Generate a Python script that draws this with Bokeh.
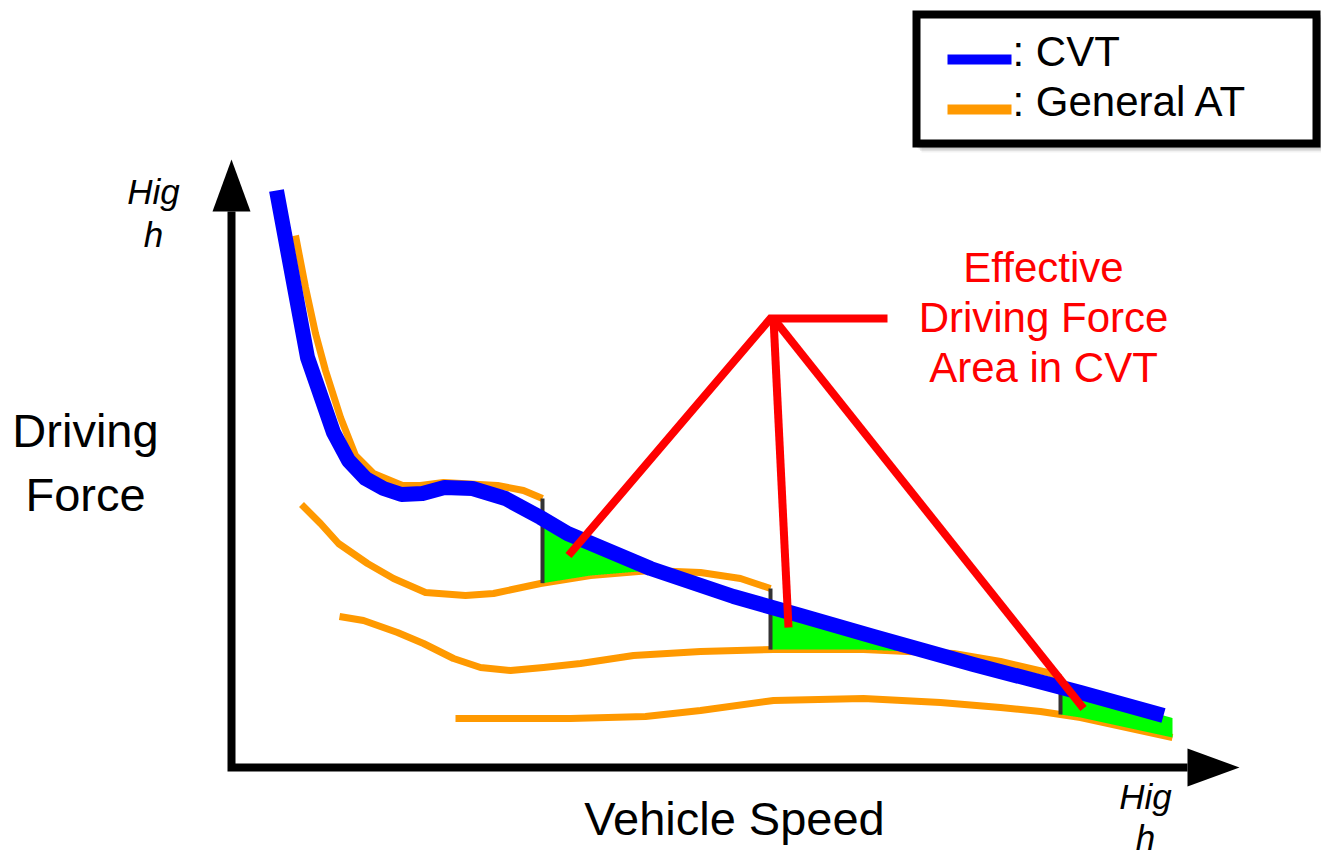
import numpy as np
from bokeh.plotting import figure
from bokeh.models import Range1d
from bokeh.embed import file_html
from bokeh.resources import INLINE
from bokeh.core.properties import value

# ---- data: driving force vs vehicle speed (origin at the axis corner) ----
cvt_speed = [45, 76, 102, 117, 134, 152, 170, 191, 213, 241, 274, 309, 336,
             419, 502, 569, 642, 742, 849, 932]
cvt_force = [577, 410, 335, 307, 289, 279, 273, 274, 280, 279, 269, 250, 234,
             199, 171, 152, 131, 103, 75, 52]

gear1_speed = [64, 74, 84, 94, 109, 124, 142, 171, 189, 212, 266, 292, 311]
gear1_force = [532, 480, 434, 397, 350, 312, 294, 282, 282, 285, 282, 277, 269]

gear2_speed = [70, 89, 107, 136, 162, 194, 234, 262, 309, 359, 419, 469, 509, 539]
gear2_force = [263, 244, 224, 204, 189, 175, 172, 174, 184, 192, 197, 195, 189, 179]

gear3_speed = [108, 132, 166, 192, 222, 249, 279, 312, 349, 402, 469, 542, 632,
               676, 722, 769, 816, 829]
gear3_force = [151, 147, 135, 124, 109, 100, 97, 100, 104, 112, 116, 118, 118,
               116, 114, 106, 95, 90]

gear4_speed = [224, 339, 414, 469, 542, 632, 709, 769, 809, 849, 941]
gear4_force = [49, 49, 51, 57, 67, 69, 65, 60, 56, 50, 30]

gears = [(gear1_speed, gear1_force), (gear2_speed, gear2_force),
         (gear3_speed, gear3_force), (gear4_speed, gear4_force)]

# points the annotation leader lines point at (inside each gain area)
callout_targets_speed = [337, 557, 852]
callout_targets_force = [212, 140, 59]

legend_labels = [": CVT", ": General AT"]
callout_lines = ["Effective", "Driving Force", "Area in CVT"]

# ---- styles ----
BLUE = "#0000ff"
ORANGE = "#ff9900"
GREEN = "#00ff00"
RED = "#ff0000"
FONT = "Liberation Sans"

p = figure(width=1321, height=857, output_backend="svg", toolbar_location=None,
           x_range=Range1d(-231, 1090), y_range=Range1d(-90, 767),
           x_axis_type=None, y_axis_type=None, min_border=0,
           outline_line_color=None, background_fill_color="white")
p.grid.visible = False


def cvt_at(x):
    x = np.asarray(x, dtype=float)
    y = np.interp(x, cvt_speed, cvt_force)
    # extend the last CVT segment past its end
    slope = (cvt_force[-1] - cvt_force[-2]) / (cvt_speed[-1] - cvt_speed[-2])
    beyond = x > cvt_speed[-1]
    y[beyond] = cvt_force[-1] + slope * (x[beyond] - cvt_speed[-1])
    return y


def base(y, size):
    # place the alphabetic baseline of a label of the given pixel size at y
    return [v + 0.4 * size for v in y]


# ---- general AT curves ----
for gs, gf in gears:
    p.line(gs, gf, line_color=ORANGE, line_width=7, line_join="round")

# ---- gain areas between the CVT curve and the next gear at each shift ----
for k in range(3):
    s0 = gears[k][0][-1]
    f_top = gears[k][1][-1]
    ns, nf = gears[k + 1]
    xs = np.linspace(s0, ns[-1], 600)
    upper = cvt_at(xs)
    lower = np.interp(xs, ns, nf)
    cross = np.where(upper - lower <= 0)[0]
    end = cross[0] if len(cross) else len(xs) - 1
    xs, upper, lower = xs[:end + 1], upper[:end + 1], lower[:end + 1]
    px = np.concatenate([xs, xs[::-1]])
    py = np.concatenate([upper, lower[::-1]])
    p.patch(px, py, fill_color=GREEN, line_color=None)
    # shift line from the end of gear k down to gear k+1
    p.line([s0, s0], [f_top, float(np.interp(s0, ns, nf))],
           line_color="#333333", line_width=4)

# ---- CVT curve ----
p.line(cvt_speed, cvt_force, line_color=BLUE, line_width=15, line_join="round")

# ---- axes with arrow heads ----
Y_TOP, X_END, HEAD_LEN, HEAD_HALF = 556, 956, 52, 19
p.line([0, 0, X_END], [Y_TOP, 0, 0], line_color="black", line_width=8,
       line_join="miter")
p.patch([-HEAD_HALF, HEAD_HALF, 0], [Y_TOP, Y_TOP, Y_TOP + HEAD_LEN],
        fill_color="black", line_color=None)
p.patch([X_END, X_END, X_END + HEAD_LEN], [HEAD_HALF, -HEAD_HALF, 0],
        fill_color="black", line_color=None)

# ---- callout leader lines ----
hub_s, hub_f, tail_s = 539, 449, 656
p.line([callout_targets_speed[0], hub_s, tail_s],
       [callout_targets_force[0], hub_f, hub_f],
       line_color=RED, line_width=8, line_join="miter")
for ts, tf in zip(callout_targets_speed[1:], callout_targets_force[1:]):
    p.line([hub_s + 3, ts], [hub_f, tf], line_color=RED, line_width=8)

# ---- texts ----
p.text(x=[812, 812, 812], y=base([483, 433, 383], 42), text=callout_lines,
       text_font=value(FONT), text_font_size="42px", text_color=RED,
       text_align="center", text_baseline="alphabetic")

p.text(x=[-146, -146], y=base([318, 254], 47), text=["Driving", "Force"],
       text_font=value(FONT), text_font_size="47px", text_color="black",
       text_align="center", text_baseline="alphabetic")

p.text(x=[503], y=base([-70], 47), text=["Vehicle Speed"],
       text_font=value(FONT), text_font_size="47px", text_color="black",
       text_align="center", text_baseline="alphabetic")

p.text(x=[-78, -78, 914, 914], y=base([562, 519, -43, -84], 35),
       text=["Hig", "h", "Hig", "h"],
       text_font=value(FONT), text_font_size="35px", text_font_style="italic",
       text_color="black", text_align="center", text_baseline="alphabetic")

# ---- legend box with a soft drop shadow ----
bx0, bx1, by0, by1 = 685, 1085, 624, 753
for i, a in enumerate([0.05, 0.07, 0.09, 0.11, 0.13]):
    off = 9 - i * 1.5
    p.quad(left=bx0 + off - 4, right=bx1 + off, top=by1 - off + 4, bottom=by0 - off,
           fill_color="black", fill_alpha=a, line_color=None)
p.quad(left=bx0, right=bx1, top=by1, bottom=by0, fill_color="white",
       line_color="black", line_width=8, line_join="miter")
p.line([716, 780], [708, 708], line_color=BLUE, line_width=10)
p.line([716, 780], [658, 658], line_color=ORANGE, line_width=10)
p.text(x=[781, 781], y=base([699, 649], 42), text=legend_labels,
       text_font=value(FONT), text_font_size="42px", text_color="black",
       text_align="left", text_baseline="alphabetic")

open("out.html", "w").write(file_html(p, INLINE))
